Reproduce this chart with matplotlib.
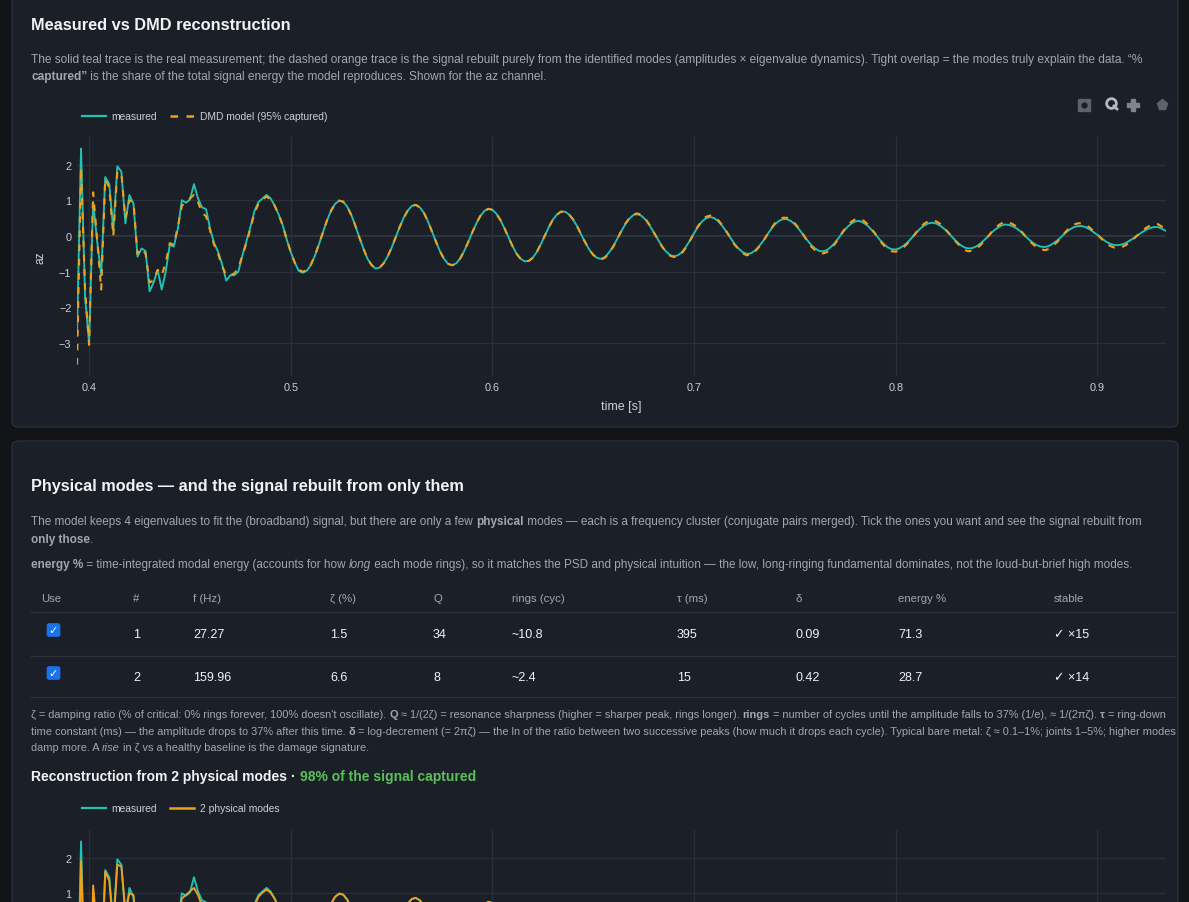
import matplotlib
matplotlib.use("Agg")
import matplotlib.pyplot as plt
import numpy as np
from matplotlib.patches import FancyBboxPatch
from matplotlib.lines import Line2D

W, H = 1189, 903

# az channel, sampled every 2 ms from t = 0.394 s
T0, DT = 0.394, 0.002
measured = [
    -2.8, 2.45, -1.7, -3.0, 0.95, -0.15, -1.1, 1.65, 1.45, 0.15,
    1.95, 1.8, 0.35, 1.15, 0.9, -0.58, -0.35, -0.42, -1.55, -1.3,
    -0.95, -1.5, -1.0, -0.25, -0.3, 0.2, 1.0, 0.93, 1.02, 1.45,
    1.05, 0.8, 0.75, 0.2, -0.2, -0.45, -0.8, -1.25, -1.1, -1.1,
    -1.0, -0.55, -0.15, 0.25, 0.7, 0.95, 1.05, 1.15, 1.05, 0.85,
    0.6, 0.3, -0.1, -0.45, -0.75, -0.98, -1.03, -0.97, -0.81, -0.55,
    -0.23, 0.11, 0.44, 0.71, 0.90, 0.99, 0.96, 0.82, 0.59, 0.29,
    -0.04, -0.35, -0.63, -0.81, -0.91, -0.89, -0.77, -0.58, -0.33, -0.04,
    0.25, 0.51, 0.71, 0.84, 0.87, 0.80, 0.65, 0.41, 0.13, -0.16,
    -0.43, -0.64, -0.78, -0.82, -0.77, -0.63, -0.42, -0.17, 0.10, 0.35,
    0.56, 0.70, 0.76, 0.73, 0.62, 0.44, 0.21, -0.04, -0.29, -0.50,
    -0.64, -0.71, -0.70, -0.61, -0.45, -0.23, 0.01, 0.25, 0.46, 0.60,
    0.68, 0.68, 0.60, 0.46, 0.27, 0.04, -0.18, -0.38, -0.53, -0.62,
    -0.64, -0.58, -0.45, -0.28, -0.07, 0.14, 0.34, 0.49, 0.59, 0.61,
    0.56, 0.45, 0.29, 0.10, -0.09, -0.28, -0.43, -0.53, -0.57, -0.54,
    -0.45, -0.30, -0.12, 0.08, 0.26, 0.41, 0.50, 0.53, 0.50, 0.41,
    0.28, 0.12, -0.05, -0.22, -0.35, -0.45, -0.50, -0.49, -0.42, -0.30,
    -0.16, 0.01, 0.18, 0.32, 0.42, 0.47, 0.47, 0.42, 0.32, 0.19,
    0.04, -0.11, -0.25, -0.35, -0.42, -0.43, -0.39, -0.30, -0.18, -0.03,
    0.12, 0.25, 0.35, 0.41, 0.42, 0.37, 0.29, 0.17, 0.04, -0.10,
    -0.22, -0.32, -0.37, -0.38, -0.34, -0.27, -0.17, -0.05, 0.08, 0.20,
    0.29, 0.35, 0.37, 0.35, 0.29, 0.20, 0.09, -0.03, -0.15, -0.25,
    -0.32, -0.35, -0.34, -0.29, -0.21, -0.11, 0.00, 0.12, 0.21, 0.28,
    0.32, 0.31, 0.27, 0.21, 0.12, 0.01, -0.10, -0.19, -0.26, -0.30,
    -0.31, -0.28, -0.21, -0.13, -0.03, 0.08, 0.17, 0.24, 0.27, 0.28,
    0.25, 0.19, 0.11, 0.03, -0.06, -0.15, -0.21, -0.25, -0.26, -0.24,
    -0.20, -0.13, -0.06, 0.02, 0.10, 0.17, 0.22, 0.25, 0.25, 0.20,
    0.14,
]
dmd_model = [
    -3.6, 1.9, -1.5, -3.05, 1.22, -0.1, -1.5, 1.6, 1.35, 0.0,
    1.8, 1.75, 0.5, 1.0, 0.95, -0.5, -0.35, -0.5, -1.3, -1.25,
    -0.95, -1.1, -0.75, -0.2, -0.25, 0.25, 0.85, 0.95, 1.05, 1.15,
    0.95, 0.65, 0.55, 0.15, -0.25, -0.5, -0.85, -1.1, -1.1, -1.05,
    -0.9, -0.55, -0.2, 0.2, 0.65, 0.9, 1.02, 1.1, 1.02, 0.85,
    0.6, 0.3, -0.1, -0.45, -0.75, -0.95, -1.0, -0.96, -0.80, -0.54,
    -0.23, 0.11, 0.44, 0.71, 0.90, 0.99, 0.96, 0.82, 0.59, 0.29,
    -0.04, -0.35, -0.63, -0.81, -0.91, -0.89, -0.77, -0.58, -0.33, -0.04,
    0.25, 0.51, 0.71, 0.84, 0.87, 0.80, 0.65, 0.41, 0.13, -0.16,
    -0.43, -0.64, -0.78, -0.82, -0.77, -0.63, -0.42, -0.17, 0.10, 0.35,
    0.56, 0.70, 0.76, 0.73, 0.62, 0.44, 0.21, -0.04, -0.29, -0.50,
    -0.64, -0.71, -0.70, -0.61, -0.45, -0.23, 0.01, 0.25, 0.46, 0.60,
    0.68, 0.68, 0.60, 0.46, 0.27, 0.04, -0.18, -0.38, -0.53, -0.62,
    -0.66, -0.60, -0.47, -0.29, -0.07, 0.15, 0.35, 0.51, 0.61, 0.63,
    0.58, 0.47, 0.30, 0.10, -0.09, -0.29, -0.45, -0.55, -0.59, -0.56,
    -0.48, -0.32, -0.13, 0.09, 0.28, 0.44, 0.54, 0.57, 0.54, 0.44,
    0.30, 0.13, -0.05, -0.24, -0.37, -0.48, -0.54, -0.52, -0.45, -0.32,
    -0.17, 0.01, 0.19, 0.35, 0.45, 0.51, 0.51, 0.45, 0.35, 0.21,
    0.05, -0.13, -0.29, -0.40, -0.48, -0.49, -0.45, -0.35, -0.21, -0.03,
    0.14, 0.29, 0.40, 0.47, 0.48, 0.43, 0.33, 0.20, 0.05, -0.12,
    -0.26, -0.37, -0.43, -0.44, -0.39, -0.31, -0.20, -0.06, 0.09, 0.23,
    0.34, 0.41, 0.43, 0.41, 0.34, 0.23, 0.10, -0.03, -0.17, -0.29,
    -0.39, -0.43, -0.41, -0.35, -0.26, -0.13, 0.00, 0.15, 0.26, 0.34,
    0.39, 0.38, 0.33, 0.26, 0.15, 0.01, -0.12, -0.23, -0.32, -0.37,
    -0.40, -0.36, -0.27, -0.17, -0.04, 0.10, 0.22, 0.31, 0.35, 0.36,
    0.32, 0.24, 0.14, 0.04, -0.08, -0.19, -0.27, -0.32, -0.33, -0.31,
    -0.26, -0.17, -0.08, 0.03, 0.13, 0.22, 0.29, 0.33, 0.33, 0.26,
    0.18,
]
# the 2-mode rebuild sits on top of the DMD one at this scale
modes2 = dmd_model

x_ticks = [0.4, 0.5, 0.6, 0.7, 0.8, 0.9]
y_ticks = [-3, -2, -1, 0, 1, 2]

# physical modes table
mode_id = [1, 2]
freq_hz = [27.27, 159.96]
zeta_pct = [1.5, 6.6]
q_factor = [34, 8]
rings_cyc = [10.8, 2.4]
tau_ms = [395, 15]
log_dec = [0.09, 0.42]
energy_pct = [71.3, 28.7]
stable_n = [15, 14]

PAGE = "#121418"
CARD = "#1b1f27"
BORDER = "#2a2f38"
GRID = "#2a2f39"
ZERO = "#3a3f49"
TEAL = "#22c1b3"
ORANGE = "#f0a019"
WHITE = "#f2f3f5"
MUTED = "#a2a7ae"
TICK = "#cdd0d5"
GREEN = "#5cbf5a"
FONT = ["Liberation Sans", "DejaVu Sans"]

fig = plt.figure(figsize=(W / 100, H / 100), dpi=100, facecolor=PAGE)
R = fig.canvas.get_renderer()


def fx(px):
    return px / W


def fy(py):
    return 1 - py / H


def card(x0, y0, x1, y1):
    fig.add_artist(FancyBboxPatch((fx(x0), fy(y1)), fx(x1 - x0), (y1 - y0) / H,
                                  boxstyle="round,pad=0,rounding_size=0.006",
                                  transform=fig.transFigure, facecolor=CARD,
                                  edgecolor=BORDER, lw=1, zorder=-10))


def adv(s, size, weight, style):
    # advance width in px, trailing/leading spaces included
    t = fig.text(0, 0, "|" + s + "|", fontsize=size, fontweight=weight,
                 fontstyle=style, family=FONT)
    t2 = fig.text(0, 0, "||", fontsize=size, fontweight=weight,
                  fontstyle=style, family=FONT)
    w = t.get_window_extent(R).width - t2.get_window_extent(R).width
    t.remove(); t2.remove()
    return w


def rich(x, y, parts, size, color=MUTED, draw=True):
    for p in parts:
        s, kw = (p, {}) if isinstance(p, str) else p
        weight = kw.get("weight", "normal")
        style = kw.get("style", "normal")
        if draw:
            fig.text(fx(x), fy(y), s, fontsize=size, fontweight=weight, fontstyle=style,
                     color=kw.get("color", color), family=FONT, va="center", ha="left")
        x += adv(s, size, weight, style)
    return x


def fit(parts, x0, x1, guess=8.0):
    w = rich(0, 0, parts, guess, draw=False)
    return guess * (x1 - x0) / w


B = {"weight": "bold"}
I = {"style": "italic"}

# ---- cards
card(12, -20, 1178, 428)
card(12, 442, 1178, 940)

# ---- card 1 header
rich(31, 25, [("Measured vs DMD reconstruction", {"weight": "bold", "color": WHITE})],
     fit([("Measured vs DMD reconstruction", B)], 31, 291, 11))
desc = [
    ["The solid teal trace is the real measurement; the dashed orange trace is the signal "
     "rebuilt purely from the identified modes (amplitudes \u00d7 eigenvalue dynamics). "
     "Tight overlap = the modes truly explain the data. \u201c%"],
    [("captured\u201d", B), " is the share of the total signal energy the model reproduces. "
     "Shown for the az channel."],
]
sz = fit(desc[0], 31, 1157)
rich(31, 60, desc[0], sz)
rich(31, 77, desc[1], sz)


def legend(y, second_label, dashed):
    fig.add_artist(Line2D([fx(82), fx(106)], [fy(y), fy(y)], color=TEAL, lw=1.6,
                          transform=fig.transFigure))
    fig.text(fx(111), fy(y), "measured", fontsize=7.4, color=TICK, family=FONT, va="center")
    ln = Line2D([fx(170), fx(194)], [fy(y), fy(y)], color=ORANGE, lw=1.8,
                transform=fig.transFigure)
    if dashed:
        ln.set_dashes((3.0, 3.4))
    fig.add_artist(ln)
    fig.text(fx(200), fy(y), second_label, fontsize=7.4, color=TICK, family=FONT, va="center")


legend(117, "DMD model (95% captured)", True)

# modebar icons
ic = dict(transform=fig.transFigure, linestyle="none")
fig.add_artist(Line2D([fx(1084)], [fy(106)], marker="s", ms=8, mfc="#5d626b", mec="#5d626b", **ic))
fig.add_artist(Line2D([fx(1084)], [fy(106)], marker="o", ms=3.5, mfc=CARD, mec=CARD, **ic))
fig.add_artist(Line2D([fx(1111)], [fy(104)], marker="o", ms=7, mfc="none", mec="#b4b8be", mew=2, **ic))
fig.add_artist(Line2D([fx(1114), fx(1117)], [fy(107), fy(110)], color="#b4b8be", lw=2,
                      transform=fig.transFigure))
fig.add_artist(Line2D([fx(1133)], [fy(106)], marker="P", ms=8, mfc="#80858c", mec="#80858c", **ic))
fig.add_artist(Line2D([fx(1162)], [fy(106)], marker="p", ms=8, mfc="#5d626b", mec="#5d626b", **ic))


def signal_axes(top, visible_labels=None):
    ax = fig.add_axes([fx(77), fy(top + 239), fx(1166 - 77), 239 / H])
    ax.set_facecolor("none")
    ax.set_xlim(T0, T0 + DT * (len(measured) - 1))
    ax.set_ylim(-3.92, 2.77)
    ax.set_xticks(x_ticks)
    ax.set_yticks(y_ticks)
    ax.set_xticklabels([f"{v:g}" for v in x_ticks])
    ylabels = [f"{v:d}".replace("-", "\u2212") for v in y_ticks]
    if visible_labels is not None:
        ylabels = [s if v in visible_labels else "" for s, v in zip(ylabels, y_ticks)]
    ax.set_yticklabels(ylabels)
    ax.tick_params(length=0, colors=TICK, labelsize=7.8, pad=4)
    for lab in ax.get_xticklabels() + ax.get_yticklabels():
        lab.set_family(FONT)
    ax.grid(True, color=GRID, lw=1)
    ax.axhline(0, color=ZERO, lw=1.2, zorder=1)
    for s in ax.spines.values():
        s.set_visible(False)
    return ax


t = T0 + DT * np.arange(len(measured))

ax1 = signal_axes(138)
ax1.plot(t, measured, color=TEAL, lw=1.35, zorder=3)
ax1.plot(t, dmd_model, color=ORANGE, lw=1.5, dashes=(3.2, 3.6), zorder=4)
fig.text(fx(621), fy(407), "time [s]", fontsize=9, color=TICK, family=FONT,
         ha="center", va="center")
fig.text(fx(40), fy(258), "az", fontsize=8.6, color=TICK, family=FONT,
         ha="center", va="center", rotation=90)

# ---- card 2
title2 = "Physical modes \u2014 and the signal rebuilt from only them"
rich(31, 487, [(title2, {"weight": "bold", "color": WHITE})], fit([(title2, B)], 31, 467, 11))

para = [
    ["The model keeps 4 eigenvalues to fit the (broadband) signal, but there are only a few ",
     ("physical", B), " modes \u2014 each is a frequency cluster (conjugate pairs merged). "
     "Tick the ones you want and see the signal rebuilt from"],
    [("only those", B), "."],
    [("energy %", B), " = time-integrated modal energy (accounts for how ", ("long", I),
     " each mode rings), so it matches the PSD and physical intuition \u2014 the low, "
     "long-ringing fundamental dominates, not the loud-but-brief high modes."],
]
sz = fit(para[0], 31, 1156)
rich(31, 522, para[0], sz)
rich(31, 540, para[1], sz)
rich(31, 565, para[2], sz)

# table
col_x = [41, 133, 193, 330, 433, 512, 677, 796, 898, 1054]
headers = ["Use", "#", "f (Hz)", "\u03b6 (%)", "Q", "rings (cyc)", "\u03c4 (ms)",
           "\u03b4", "energy %", "stable"]
for cx, h in zip(col_x, headers):
    fig.text(fx(cx), fy(599), h, fontsize=8.2, color=MUTED, family=FONT, va="center")
for yy in (613, 657, 698):
    fig.add_artist(Line2D([fx(31), fx(1175)], [fy(yy), fy(yy)], color="#2c313a", lw=1,
                          transform=fig.transFigure))
row_y = [635, 678]
for i, ry in enumerate(row_y):
    cells = [str(mode_id[i]), f"{freq_hz[i]:.2f}", f"{zeta_pct[i]:.1f}", str(q_factor[i]),
             f"~{rings_cyc[i]:.1f}", str(tau_ms[i]), f"{log_dec[i]:.2f}",
             f"{energy_pct[i]:.1f}", f"\u2713 \u00d7{stable_n[i]}"]
    for cx, c in zip(col_x[1:], cells):
        fig.text(fx(cx), fy(ry), c, fontsize=9, color=WHITE, family=FONT, va="center")
    cy = ry - 4
    fig.add_artist(FancyBboxPatch((fx(47), fy(cy + 6.5)), fx(13), 13 / H,
                                  boxstyle="round,pad=0,rounding_size=0.002",
                                  transform=fig.transFigure, facecolor="#1a73e8",
                                  edgecolor="#1a73e8", lw=0.5))
    fig.text(fx(53.5), fy(cy), "\u2713", fontsize=8, fontweight="bold", color="white",
             family=["DejaVu Sans"], ha="center", va="center")

foot = [
    ["\u03b6 = damping ratio (% of critical: 0% rings forever, 100% doesn't oscillate). ",
     ("Q", B), " \u2248 1/(2\u03b6) = resonance sharpness (higher = sharper peak, rings longer). ",
     ("rings", B), " = number of cycles until the amplitude falls to 37% (1/e), \u2248 1/(2\u03c0\u03b6). ",
     ("\u03c4", B), " = ring-down"],
    ["time constant (ms) \u2014 the amplitude drops to 37% after this time. ", ("\u03b4", B),
     " = log-decrement (= 2\u03c0\u03b6) \u2014 the ln of the ratio between two successive peaks "
     "(how much it drops each cycle). Typical bare metal: \u03b6 \u2248 0.1\u20131%; joints 1\u20135%; "
     "higher modes"],
    ["damp more. A ", ("rise", I), " in \u03b6 vs a healthy baseline is the damage signature."],
]
sz = fit(foot[0], 31, 1168, 7)
rich(31, 715, foot[0], sz)
rich(31, 732, foot[1], sz)
rich(31, 748, foot[2], sz)

recon = [("Reconstruction from 2 physical modes \u00b7 ", {"weight": "bold", "color": WHITE}),
         ("98% of the signal captured", {"weight": "bold", "color": GREEN})]
rich(31, 777, recon, fit(recon, 31, 475, 9))

legend(809, "2 physical modes", False)

# second plot runs past the bottom of the page; only its top is in view
ax2 = signal_axes(831, visible_labels=[1, 2])
ax2.tick_params(labelbottom=False)
ax2.plot(t, measured, color=TEAL, lw=1.35, zorder=3)
ax2.plot(t, modes2, color=ORANGE, lw=1.35, zorder=4)

fig.savefig("out.png", dpi=100, facecolor=PAGE)
